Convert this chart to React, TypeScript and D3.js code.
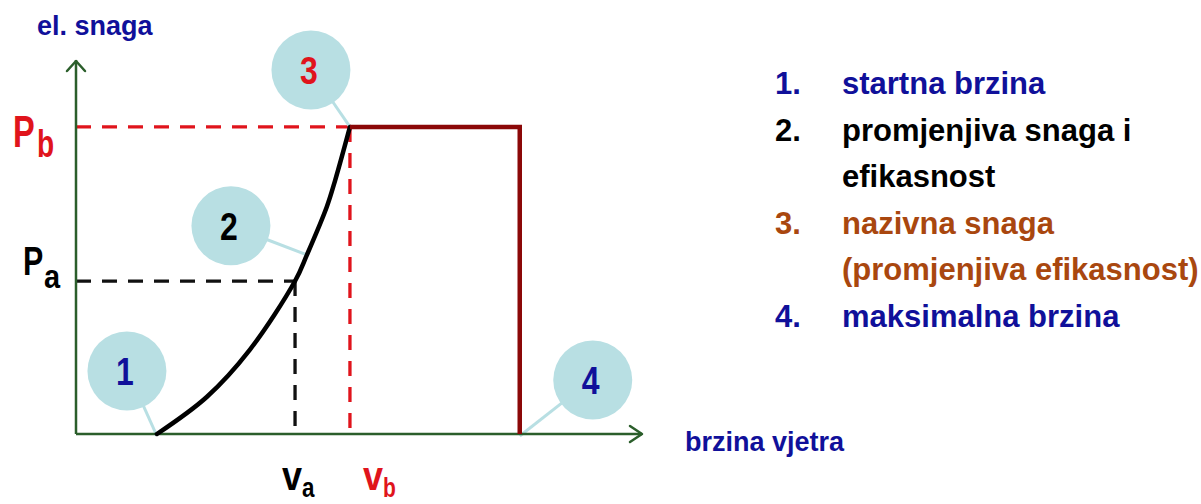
import React from "react";
import * as d3 from "d3";

// ---- data (conceptual units: wind speed 0..100, power 0..100) ----
const curveSpeeds = [14.3, 23.1, 30.7, 38.7, 40.8, 44.3, 45.8, 48.4];
const curvePowers = [0, 9.9, 22.5, 40.9, 47.9, 60.7, 67.9, 82.1];
const vStart = 14.3;
const vA = 38.7;
const vB = 48.4;
const vMax = 78.4;
const pA = 40.9;
const pB = 82.1;

const bubbleLabels = ["1", "2", "3", "4"];
const bubbleAnchorV = [vStart, 40.8, vB, vMax];
const bubbleAnchorP = [0, 47.9, pB, 0];

const legendNums = ["1.", "2.", "", "3.", "", "4."];
const legendTexts = [
  "startna brzina",
  "promjenjiva snaga i",
  "efikasnost",
  "nazivna snaga",
  "(promjenjiva efikasnost)",
  "maksimalna brzina",
];

const BLUE = "#10109a";
const RED = "#e0141c";
const DARKRED = "#8b0808";
const GREEN = "#2b5e2b";
const BUBBLE = "#b8dfe3";
const BROWN = "#a9470f";
const legendColors = [BLUE, "#000", "#000", BROWN, BROWN, BLUE];
const bubbleTextColors = [BLUE, "#000", RED, BLUE];
// bubble center offsets (px) from anchor
const bubbleOffsets: [number, number][] = [
  [-30, -63],
  [-76, -29],
  [-39, -57],
  [73, -54],
];

export default function App() {
  const W = 1201;
  const H = 504;
  const x = d3.scaleLinear().domain([0, 100]).range([76, 642]);
  const y = d3.scaleLinear().domain([0, 100]).range([434, 60]);
  const font = "'Liberation Sans', Arial, sans-serif";

  const curvePts: [number, number][] = curveSpeeds.map((v, i) => [x(v), y(curvePowers[i])]);
  const curvePath = d3.line().curve(d3.curveCatmullRom.alpha(0.5))(curvePts) || "";
  const ratedPath =
    d3.line()([
      [x(vB), y(pB)],
      [x(vMax), y(pB)],
      [x(vMax), y(0)],
    ]) || "";

  const x0 = x(0);
  const y0 = y(0);
  const yTop = y(100);
  const xEnd = x(100);

  const legendX0 = 775;
  const legendX1 = 842;
  const legendY0 = 94;
  const legendStep = 46.6;

  return (
    <svg width={W} height={H} style={{ position: "absolute", left: 0, top: 0, background: "#fff" }} fontFamily={font}>
      {/* dashed guides */}
      <g strokeWidth={3.3} strokeDasharray="15,11" fill="none">
        <line x1={x0} x2={x(vA)} y1={y(pA)} y2={y(pA)} stroke="#111" />
        <line x1={x(vA)} x2={x(vA)} y1={y(pA)} y2={y0} stroke="#111" />
        <line x1={x0} x2={x(vB)} y1={y(pB)} y2={y(pB)} stroke={RED} />
        <line x1={x(vB)} x2={x(vB)} y1={y(pB)} y2={y0} stroke={RED} />
      </g>

      {/* bubbles */}
      {bubbleLabels.map((lab, i) => {
        const ax = x(bubbleAnchorV[i]);
        const ay = y(bubbleAnchorP[i]);
        const cx = ax + bubbleOffsets[i][0];
        const cy = ay + bubbleOffsets[i][1];
        const ang = Math.atan2(ay - cy, ax - cx);
        const r = 39.5;
        return (
          <g key={lab}>
            <line
              x1={cx + Math.cos(ang) * (r - 4)}
              y1={cy + Math.sin(ang) * (r - 4)}
              x2={ax}
              y2={ay + (i === 0 || i === 3 ? 2 : 0)}
              stroke={BUBBLE}
              strokeWidth={3}
            />
            <circle cx={cx} cy={cy} r={r} fill={BUBBLE} />
            <text
              transform={`translate(${cx - 2},${cy + 14}) scale(0.82,1)`}
              textAnchor="middle"
              fontSize={39}
              fontWeight="bold"
              fill={bubbleTextColors[i]}
            >
              {lab}
            </text>
          </g>
        );
      })}

      {/* axes */}
      <g stroke={GREEN} strokeWidth={2.5} fill="none">
        <line x1={x0} x2={x0} y1={y0} y2={yTop} />
        <line x1={x0} x2={xEnd} y1={y0} y2={y0} />
        <polyline points={`${x0 - 9},${yTop + 11} ${x0},${yTop + 1} ${x0 + 9},${yTop + 11}`} strokeLinecap="round" strokeLinejoin="round" />
        <polyline points={`${xEnd - 12},${y0 - 8} ${xEnd},${y0} ${xEnd - 12},${y0 + 8}`} strokeLinecap="round" strokeLinejoin="round" />
      </g>

      {/* power curve */}
      <path d={curvePath} fill="none" stroke="#000" strokeWidth={4.5} strokeLinecap="round" />
      <path d={ratedPath} fill="none" stroke={DARKRED} strokeWidth={4.5} strokeLinejoin="miter" />

      {/* axis titles */}
      <text x={37} y={35} fontSize={27} fontWeight="bold" fill={BLUE}>
        el. snaga
      </text>
      <text x={685} y={451} fontSize={27} fontWeight="bold" fill={BLUE}>
        brzina vjetra
      </text>

      {/* P labels */}
      <text transform={`translate(13,${y(pB) + 20}) scale(0.74,1)`} fontSize={44} fontWeight="bold" fill={RED}>
        P
      </text>
      <text transform={`translate(37,${y(pB) + 30}) scale(0.74,1)`} fontSize={38} fontWeight="bold" fill={RED}>
        b
      </text>
      <text transform={`translate(23,${y(pA) - 6}) scale(0.76,1)`} fontSize={40} fontWeight="bold" fill="#000">
        P
      </text>
      <text transform={`translate(44,${y(pA) + 7}) scale(0.85,1)`} fontSize={34} fontWeight="bold" fill="#000">
        a
      </text>

      {/* v labels */}
      <text transform={`translate(${x(vA) - 13},490) scale(0.9,1)`} fontSize={40} fontWeight="bold" fill="#000">
        v
      </text>
      <text transform={`translate(${x(vA) + 7},497) scale(0.8,1)`} fontSize={28} fontWeight="bold" fill="#000">
        a
      </text>
      <text transform={`translate(${x(vB) + 13},490) scale(0.9,1)`} fontSize={40} fontWeight="bold" fill={RED}>
        v
      </text>
      <text transform={`translate(${x(vB) + 33},497) scale(0.75,1)`} fontSize={28} fontWeight="bold" fill={RED}>
        b
      </text>

      {/* legend */}
      {legendTexts.map((t, i) => (
        <g key={i} fontSize={31} fontWeight="bold" fill={legendColors[i]}>
          {legendNums[i] && (
            <text x={legendX0} y={legendY0 + i * legendStep}>
              {legendNums[i]}
            </text>
          )}
          <text x={legendX1} y={legendY0 + i * legendStep}>
            {t}
          </text>
        </g>
      ))}
    </svg>
  );
}
